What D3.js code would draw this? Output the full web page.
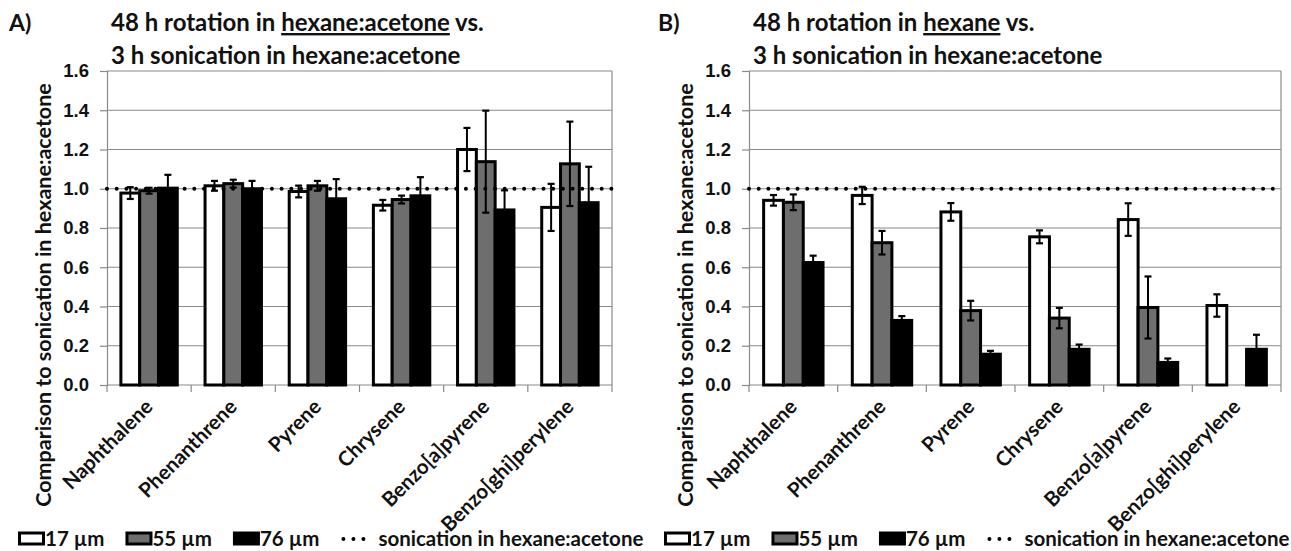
<!DOCTYPE html>
<html>
<head>
<meta charset="utf-8">
<script src="https://cdn.jsdelivr.net/npm/d3@7"></script>
<style>
  body { margin: 0; background: #fff; }
  svg { display: block; font-family: Lato, 'Open Sans', sans-serif; font-weight: 700; }
</style>
</head>
<body>
<svg id="chart" width="1291" height="551"></svg>
<script>
// --- data ---
const compounds = ['Naphthalene', 'Phenanthrene', 'Pyrene', 'Chrysene', 'Benzo[a]pyrene', 'Benzo[ghi]perylene'];
const sizes = ['17 µm', '55 µm', '76 µm'];
const yTicks = [0, 0.2, 0.4, 0.6, 0.8, 1.0, 1.2, 1.4, 1.6];
const sonicationRef = 1.0;

// A) 48 h rotation in hexane:acetone
const hexAcetone17 = [0.978, 1.015, 0.986, 0.916, 1.200, 0.905];
const hexAcetone55 = [0.990, 1.026, 1.015, 0.945, 1.138, 1.127];
const hexAcetone76 = [1.003, 1.000, 0.949, 0.964, 0.892, 0.929];
const hexAcetone17Err = [0.030, 0.025, 0.030, 0.027, 0.110, 0.120];
const hexAcetone55Err = [0.015, 0.020, 0.025, 0.020, 0.260, 0.215];
const hexAcetone76Err = [0.068, 0.040, 0.100, 0.095, 0.100, 0.183];

// B) 48 h rotation in hexane
const hexane17 = [0.941, 0.966, 0.882, 0.755, 0.843, 0.405];
const hexane55 = [0.931, 0.725, 0.379, 0.341, 0.395, null];
const hexane76 = [0.624, 0.329, 0.157, 0.182, 0.115, 0.182];
const hexane17Err = [0.027, 0.044, 0.045, 0.033, 0.083, 0.057];
const hexane55Err = [0.040, 0.060, 0.050, 0.052, 0.158, null];
const hexane76Err = [0.035, 0.022, 0.017, 0.024, 0.020, 0.074];

const fills = ['#ffffff', '#6e6e6e', '#000000'];
const gridColor = '#8a8a8a';
const ink = '#111';

const svg = d3.select('#chart');

function drawPanel(opt) {
  const { left, right, top, bottom, values, errors } = opt;
  const w = right - left, h = bottom - top;
  const g = svg.append('g').attr('transform', `translate(${left},${top})`);

  const x0 = d3.scaleBand().domain(compounds).range([0, w]).paddingInner(0.33).paddingOuter(0.165);
  const x1 = d3.scaleBand().domain(sizes).range([0, x0.bandwidth()]);
  const y = d3.scaleLinear().domain([0, 1.6]).range([h, 0]);

  // gridlines
  g.append('g').selectAll('line').data(yTicks.filter(d => d > 0)).join('line')
    .attr('x1', 0).attr('x2', w)
    .attr('y1', d => y(d)).attr('y2', d => y(d))
    .attr('stroke', gridColor).attr('stroke-width', 1.2);
  // right border
  g.append('line').attr('x1', w).attr('x2', w).attr('y1', 0).attr('y2', h)
    .attr('stroke', gridColor).attr('stroke-width', 1.2);

  // y axis
  const yAxis = g.append('g').call(d3.axisLeft(y).tickValues(yTicks).tickFormat(d3.format('.1f')).tickSize(7).tickPadding(11));
  yAxis.select('.domain').attr('stroke', gridColor).attr('stroke-width', 1.2);
  yAxis.selectAll('.tick line').attr('stroke', gridColor).attr('stroke-width', 1.2);
  yAxis.selectAll('.tick text').attr('font-size', 18.5).attr('font-family', null).attr('fill', ink);

  // x axis (ticks between categories)
  const xg = g.append('g').attr('transform', `translate(0,${h})`);
  xg.append('line').attr('x1', 0).attr('x2', w).attr('stroke', gridColor).attr('stroke-width', 1.2);
  xg.selectAll('.bt').data(d3.range(compounds.length + 1)).join('line')
    .attr('x1', i => i * x0.step()).attr('x2', i => i * x0.step())
    .attr('y1', 0).attr('y2', 7).attr('stroke', gridColor).attr('stroke-width', 1.2);
  xg.selectAll('text').data(compounds).join('text')
    .attr('transform', d => `translate(${x0(d) + x0.bandwidth() / 2 + 5},${23}) rotate(-45)`)
    .attr('text-anchor', 'end').attr('font-size', 20.5).attr('fill', ink)
    .text(d => d);

  // bars
  const rows = [];
  sizes.forEach((s, si) => compounds.forEach((c, ci) => {
    if (values[si][ci] != null) rows.push({ s, si, c, v: values[si][ci], e: errors[si][ci] });
  }));
  g.append('g').selectAll('rect').data(rows).join('rect')
    .attr('x', d => x0(d.c) + x1(d.s))
    .attr('y', d => y(d.v))
    .attr('width', x1.bandwidth())
    .attr('height', d => y(0) - y(d.v))
    .attr('fill', d => fills[d.si])
    .attr('stroke', '#000').attr('stroke-width', 3);

  // reference dotted line
  g.append('line').attr('x1', 0).attr('x2', w)
    .attr('y1', y(sonicationRef)).attr('y2', y(sonicationRef))
    .attr('stroke', '#000').attr('stroke-width', 4)
    .attr('stroke-linecap', 'round').attr('stroke-dasharray', '0 9.7');

  // error bars
  const eb = g.append('g').selectAll('g').data(rows).join('g')
    .attr('transform', d => `translate(${x0(d.c) + x1(d.s) + x1.bandwidth() / 2},0)`);
  eb.append('line').attr('y1', d => y(d.v + d.e)).attr('y2', d => y(d.v - d.e))
    .attr('stroke', '#000').attr('stroke-width', 2);
  eb.selectAll('.cap').data(d => [d.v + d.e, d.v - d.e]).join('line')
    .attr('x1', -3.5).attr('x2', 3.5).attr('y1', v => y(v)).attr('y2', v => y(v))
    .attr('stroke', '#000').attr('stroke-width', 2.2);

  // y axis title
  svg.append('text')
    .attr('transform', `translate(${opt.yTitleX},${295}) rotate(-90)`)
    .attr('text-anchor', 'middle').attr('font-size', 21.5).attr('fill', ink)
    .text('Comparison to sonication in hexane:acetone');

  // panel letter and title
  svg.append('text').attr('x', opt.letterX).attr('y', 31).attr('font-size', 23).attr('fill', ink).text(opt.letter);
  const t1 = svg.append('text').attr('x', left + 4).attr('y', 31).attr('font-size', 24).attr('fill', ink);
  t1.append('tspan').text('48 h rotation in ');
  t1.append('tspan').style('text-decoration', 'underline').text(opt.solvent);
  t1.append('tspan').text(' vs.');
  svg.append('text').attr('x', left + 4).attr('y', 64).attr('font-size', 24).attr('fill', ink)
    .text('3 h sonication in hexane:acetone');

  // legend
  const lg = svg.append('g').attr('transform', `translate(${opt.legendX},546)`);
  let cx = 0;
  sizes.forEach((s, i) => {
    lg.append('rect').attr('x', cx + 1.5).attr('y', -13).attr('width', 24).attr('height', 11)
      .attr('fill', fills[i]).attr('stroke', '#000').attr('stroke-width', 3);
    const t = lg.append('text').attr('x', cx + 27).attr('font-size', 20.5).attr('fill', ink).text(s);
    cx += 27 + t.node().getComputedTextLength() + 21;
  });
  lg.append('line').attr('x1', cx + 3).attr('x2', cx + 33).attr('y1', -7).attr('y2', -7)
    .attr('stroke', '#000').attr('stroke-width', 4)
    .attr('stroke-linecap', 'round').attr('stroke-dasharray', '0 10');
  lg.append('text').attr('x', cx + 38).attr('font-size', 20.5).attr('fill', ink).text('sonication in hexane:acetone');
}

drawPanel({
  left: 107, right: 612, top: 71, bottom: 385,
  values: [hexAcetone17, hexAcetone55, hexAcetone76],
  errors: [hexAcetone17Err, hexAcetone55Err, hexAcetone76Err],
  letter: 'A)', letterX: 9, solvent: 'hexane:acetone', yTitleX: 51, legendX: 18
});
drawPanel({
  left: 749, right: 1281, top: 71, bottom: 385,
  values: [hexane17, hexane55, hexane76],
  errors: [hexane17Err, hexane55Err, hexane76Err],
  letter: 'B)', letterX: 658, solvent: 'hexane', yTitleX: 693, legendX: 664
});
</script>
</body>
</html>
